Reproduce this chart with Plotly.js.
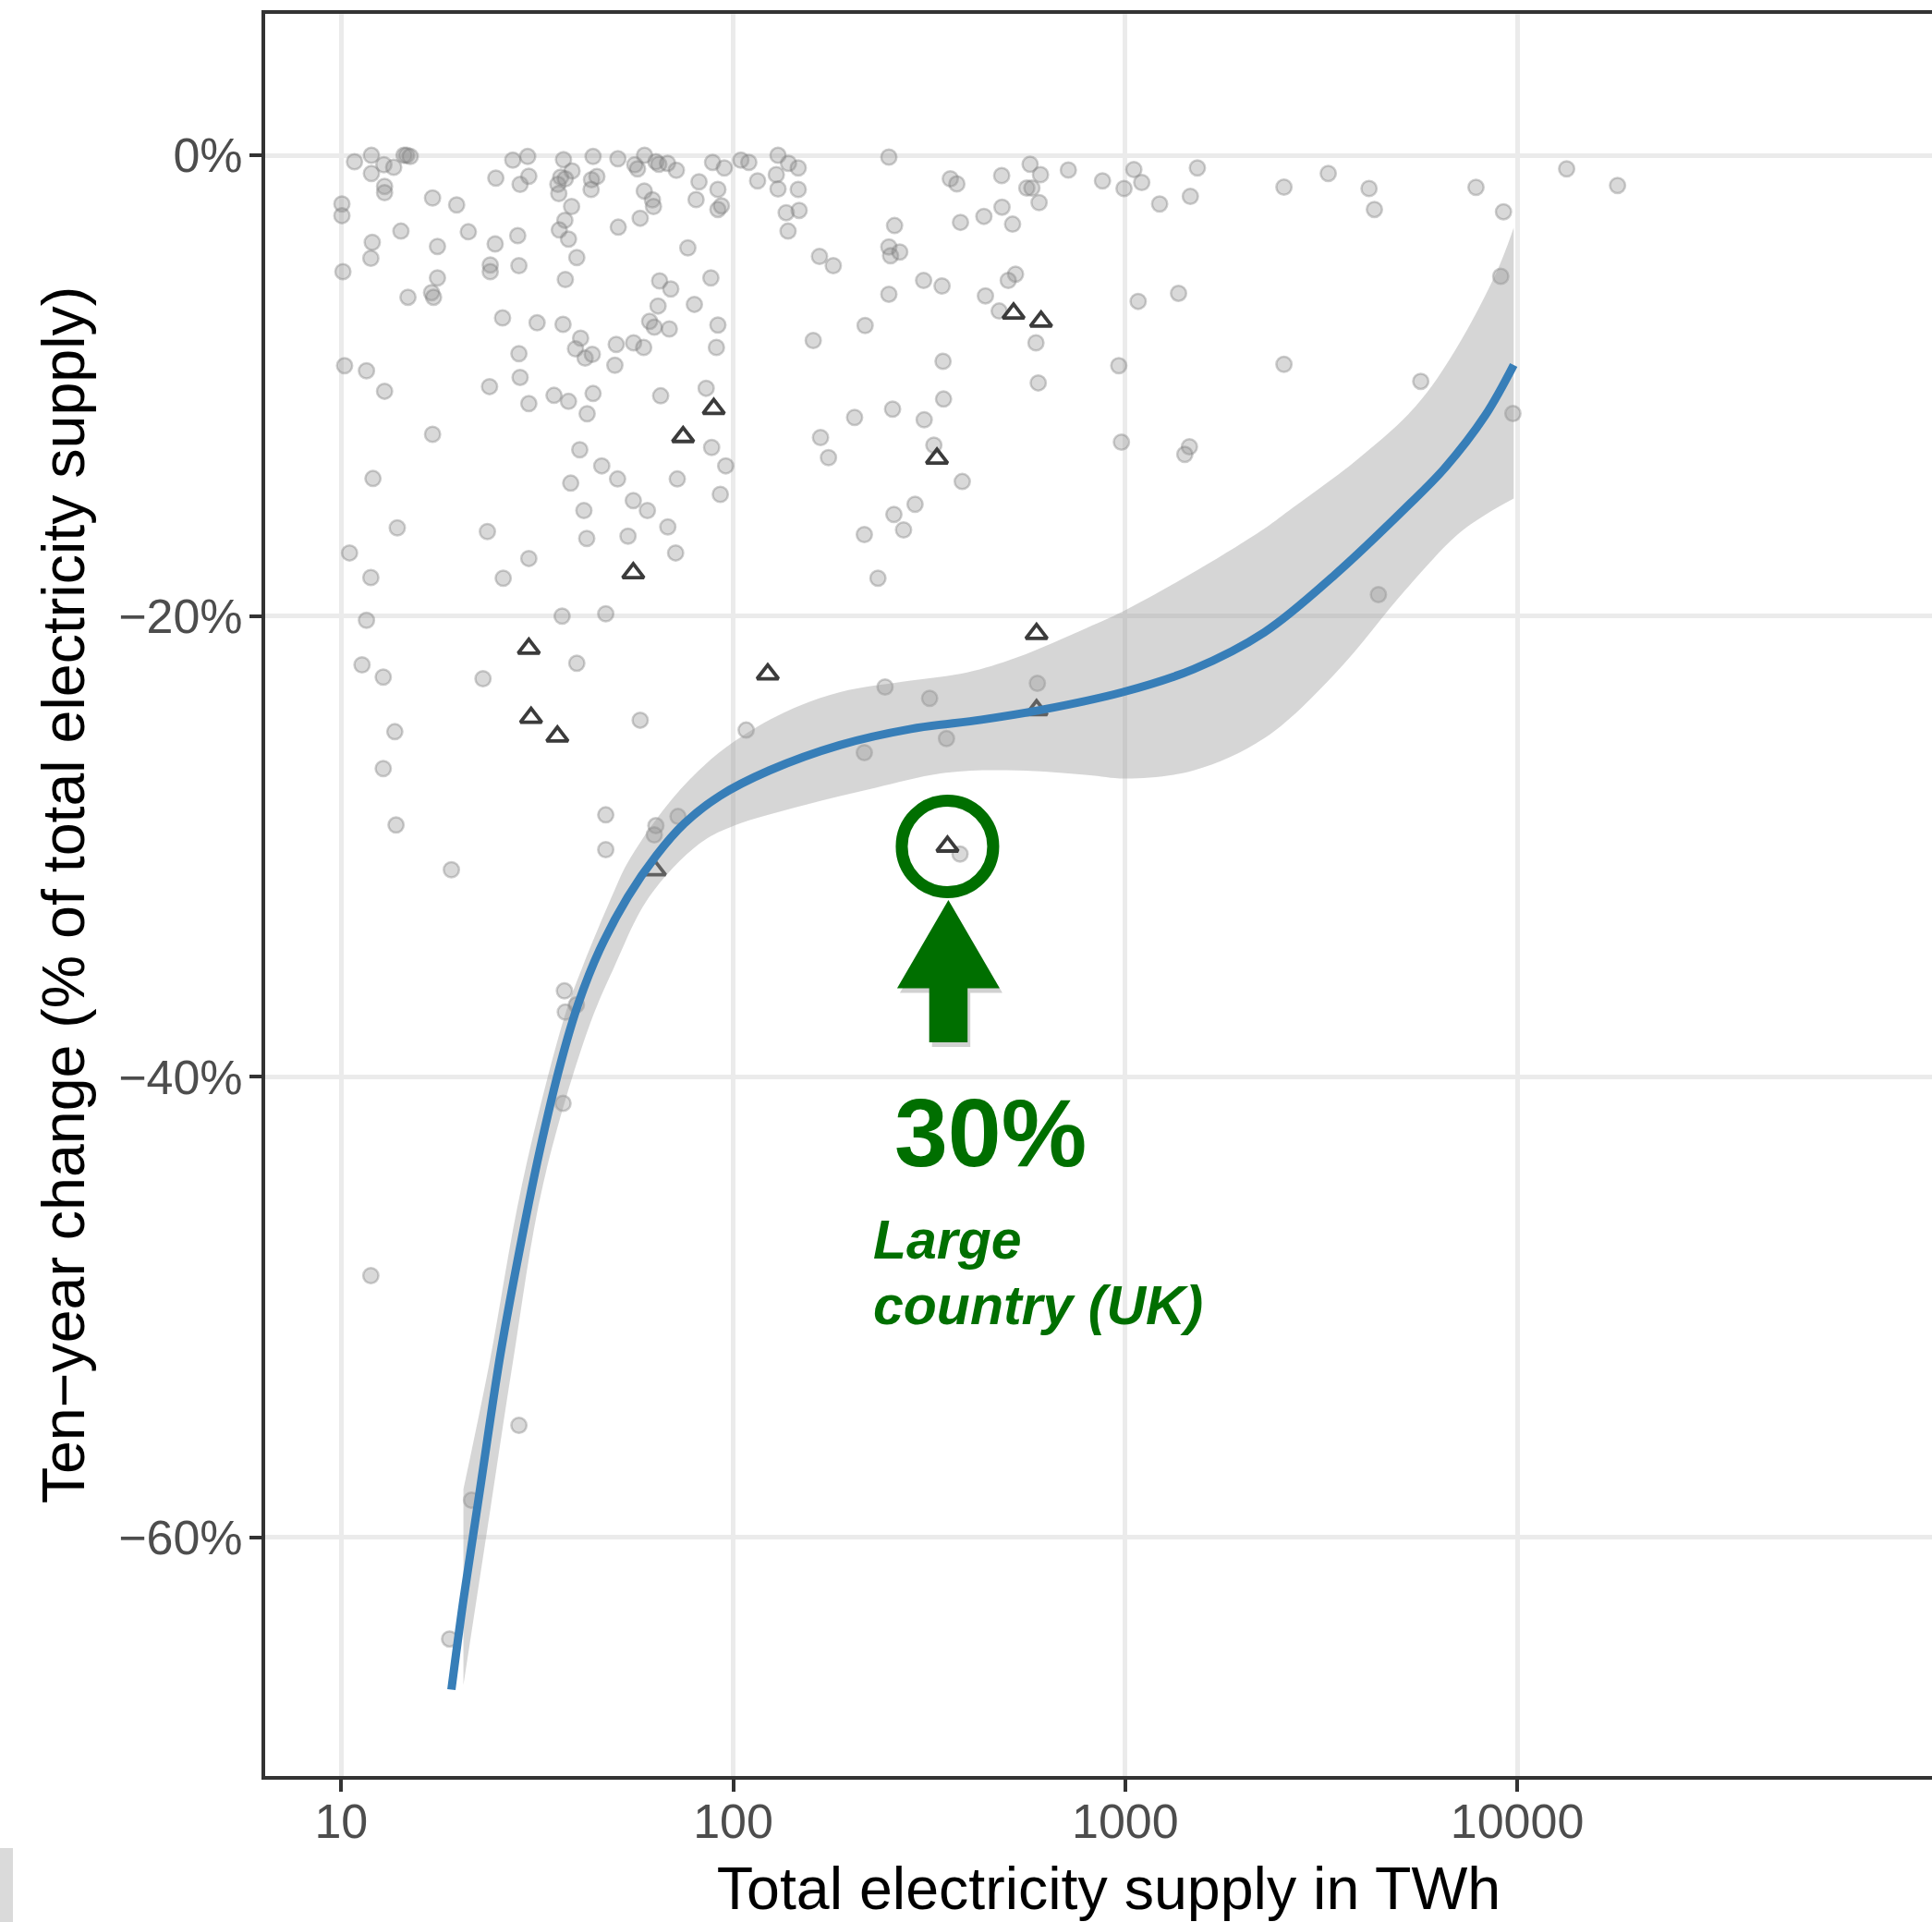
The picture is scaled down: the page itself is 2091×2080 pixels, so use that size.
<!DOCTYPE html>
<html><head><meta charset="utf-8">
<script src="https://cdn.plot.ly/plotly-3.0.1.min.js"></script>
<style>html,body{margin:0;padding:0;overflow:hidden;background:#fff;}#chart{width:2113px;height:2080px;}</style>
</head><body><div id="chart"></div>
<script>
// ---- data (TWh, % change) ----
const circleX = [10.81,11.94,11.94,12.85,13.61,14.46,14.69,15.0,27.4,29.9,24.8,28.6,30.1,36.9,38.8,36.3,35.7,37.3,35.9,43.9,43.5,44.9,43.4,50.8,56.1,57.0,59.4,63.5,64.6,68.0,71.6,81.8,88.6,94.9,91.4,80.4,91.4,93.3,104.6,109.6,115.4,130.1,138.4,146.5,128.8,130.1,146.5,136.5,147.3,138.0,
10.04,10.04,12.9,12.9,17.1,19.7,14.2,12.0,11.9,10.1,17.6,21.1,24.7,28.2,24.0,24.0,28.4,37.3,38.7,37.2,36.0,38.0,39.9,50.9,57.9,59.3,62.2,62.6,76.6,64.9,69.3,87.7,64.3,79.6,61.2,62.9,68.7,91.4,90.6,17.6,14.8,17.0,17.2,25.8,31.6,36.8,40.8,39.6,41.9,43.7,50.3,55.7,59.1,49.9,28.4,10.2,11.6,12.9,23.9,28.6,34.9,38.0,43.9,30.1,42.4,65.3,85.3,17.1,40.6,88.1,
249.5,358,372,484,572,608,716,875,1052,1102,993,1528,1224,1466,2541,3296,561,578,603,485,436,380,516,258,166,180,249.5,252,266,306,341,249.5,440,525,503,477,217,160,592,1079,1368,343,963,2541,600,344,255,204,307,167,175,325,978,1458,1419,
4188,4322,7850,9226,13370,18030,9078,5675,9750,
95.7,12.05,38.5,46.2,50.7,72.0,92.7,55.6,60.4,41.6,68.1,53.9,42.3,71.3,13.9,23.6,10.5,11.9,30.1,25.9,11.6,36.6,47.3,11.3,12.8,23.0,39.9,57.9,13.7,107.9,12.8,47.3,63.5,72.3,47.3,13.8,19.1,62.9,
384,291,257,272,216,234,244,317,597,216,350,379,
4426,
37.1,37.3,39.8,36.8,11.9,
28.4,21.5,18.9];
const circleY = [-0.28,0,-0.79,-0.41,-0.52,0,0,-0.05,-0.21,-0.05,-0.99,-1.26,-0.91,-0.19,-0.68,-0.95,-1.26,-1.02,-1.66,-0.05,-1.06,-0.92,-1.48,-0.15,-0.41,-0.59,0,-0.28,-0.39,-0.35,-0.65,-1.15,-0.31,-0.55,-1.48,-1.92,-2.35,-2.19,-0.21,-0.31,-1.11,0,-0.35,-0.55,-0.84,-1.46,-1.48,-2.49,-2.39,-3.29,
-2.11,-2.62,-1.35,-1.62,-1.85,-2.15,-3.29,-3.78,-4.47,-5.05,-3.96,-3.32,-3.85,-3.49,-4.76,-5.05,-4.79,-5.39,-2.22,-2.82,-3.24,-3.64,-4.44,-3.12,-2.73,-1.55,-1.93,-2.22,-4.02,-5.45,-5.80,-5.32,-6.54,-6.47,-7.21,-7.46,-7.54,-7.37,-8.34,-5.32,-6.16,-5.96,-6.16,-7.06,-7.27,-7.34,-7.94,-8.40,-8.80,-8.64,-8.21,-8.14,-8.34,-9.11,-8.61,-9.13,-9.35,-10.24,-10.04,-9.64,-10.42,-10.68,-10.34,-10.78,-11.22,-10.44,-10.11,-12.11,-12.78,-12.68,
-0.08,-1.02,-1.24,-0.88,-0.39,-0.84,-0.64,-1.11,-0.62,-1.18,-1.44,-0.55,-2.11,-1.78,-1.38,-0.79,-1.42,-1.42,-2.05,-2.25,-2.65,-2.91,-2.99,-3.05,-4.39,-4.79,-3.98,-4.36,-4.20,-5.43,-5.67,-6.03,-6.10,-5.16,-5.43,-6.76,-7.39,-8.04,-8.14,-6.34,-5.99,-8.94,-9.13,-9.07,-9.88,-10.58,-11.02,-11.38,-11.48,-12.25,-13.12,-12.58,-12.45,-12.65,-12.98,
-1.44,-2.35,-1.39,-2.45,-0.59,-1.31,-5.25,-9.81,-11.21,
-13.48,-14.03,-14.23,-13.48,-14.05,-14.05,-14.72,-14.99,-15.42,-15.42,-16.13,-16.53,-16.63,-17.26,-16.17,-16.33,-17.26,-18.33,-17.5,-18.36,-20.18,-20.00,-19.90,-22.12,-22.65,-22.72,-22.05,-24.52,-25.02,-24.95,-26.62,-28.63,-29.10,-28.70,-30.14,-29.07,-31.01,-29.5,
-14.16,-15.15,-15.59,-16.26,-16.46,-18.36,-23.08,-23.57,-22.92,-25.93,-25.32,-30.33,
-19.07,
-36.27,-37.19,-36.88,-41.15,-48.63,
-55.13,-58.38,-64.4];

// large-country markers (last one is the UK)
const triangleX = [89.2,74.5,519,610,331,55.6,30.1,30.5,35.6,122.5,63.1,594,594,352];
const triangleY = [-11.0,-12.22,-6.86,-7.21,-13.16,-18.13,-21.41,-24.41,-25.22,-22.52,-31.03,-20.77,-24.08,-30.0];

// smooth fit and its confidence band
const fitX = [19.1,20.5,22.6,25.5,28.9,32.1,36.3,40.3,45.6,53.8,63.6,75.1,92.5,123.7,187,284,430,599,986,1495,2266,3430,5196,6516,8280,9795];
const fitY = [-66.6,-62.7,-57.9,-52.0,-47.0,-43.2,-39.4,-36.8,-34.5,-32.2,-30.4,-29.0,-27.8,-26.7,-25.6,-24.9,-24.5,-24.1,-23.3,-22.3,-20.7,-18.2,-15.3,-13.6,-11.3,-9.1];
const bandUpperX = [20.5,23.9,28.9,37.1,41.1,49.5,53.8,66.4,81.7,100.5,134.3,187.4,284,395,529,801,986,1495,2266,2675,3846,5504,7000,8892,9795];
const bandUpperY = [-57.9,-52.4,-44.7,-37.4,-35.3,-32.0,-30.7,-28.4,-26.7,-25.45,-24.2,-23.3,-22.8,-22.45,-21.8,-20.5,-19.8,-18.1,-16.2,-15.3,-13.3,-10.9,-8.37,-5.0,-3.15];
const bandLowerX = [20.5,24.0,27.4,32.7,42.5,49.5,61.0,81.7,100.5,152,231,349,529,801,1007,1495,2266,3430,5196,7000,8300,9795];
const bandLowerY = [-66.4,-58.8,-52.4,-44.7,-38.0,-35.3,-32.2,-29.9,-29.1,-28.2,-27.45,-26.8,-26.7,-26.9,-27.05,-26.7,-25.3,-22.5,-18.85,-16.5,-15.6,-14.9];

const xTickVals = [10,100,1000,10000];
const xTickText = ['10','100','1000','10000'];
const yTickVals = [0,-20,-40,-60];
const yTickText = ['0%','\u221220%','\u221240%','\u221260%'];

// ---- layout constants ----
const W = 2113, H = 2080;
const M = {l:287, r:0, t:15, b:158, pad:0};
const plotW = W - M.l - M.r, plotH = H - M.t - M.b;
const xRange = [0.806, 5.110], yRange = [-70.35, 6.14];
const GREEN = '#006f00';
const FONT = 'Liberation Sans, Arial, Helvetica, sans-serif';

const uk = triangleX.length - 1;
const ukPX = (Math.log10(triangleX[uk]) - xRange[0]) / (xRange[1] - xRange[0]);
const ukPY = (triangleY[uk] - yRange[0]) / (yRange[1] - yRange[0]);
const dx = p => p / plotW, dy = p => p / plotH;

function arrowPath(ox, oy) {
  const cx = ukPX + dx(1 + ox);
  const apex = ukPY - dy(58 + oy), base = ukPY - dy(153.5 + oy), bot = ukPY - dy(212 + oy);
  const hw = dx(55.5), sw = dx(20.75);
  return `M${cx},${apex} L${cx+hw},${base} L${cx+sw},${base} L${cx+sw},${bot} L${cx-sw},${bot} L${cx-sw},${base} L${cx-hw},${base} Z`;
}
const pxX = px => (px - M.l) / plotW;
const pxY = py => (M.t + plotH - py) / plotH;

const traces = [
  {type:'scatter', mode:'markers', x:circleX, y:circleY, hoverinfo:'skip',
   marker:{symbol:'circle', size:16.5, color:'rgba(140,140,140,0.33)', line:{width:2.5, color:'rgba(120,120,120,0.36)'}}},
  {type:'scatter', mode:'markers', x:triangleX, y:triangleY, hoverinfo:'skip',
   marker:{symbol:'triangle-up-open', size:20, color:'#3b3b3b', line:{width:3.8, color:'#3b3b3b'}}},
  {type:'scatter', mode:'lines', x:bandLowerX, y:bandLowerY, hoverinfo:'skip',
   line:{width:0, shape:'spline', color:'rgba(0,0,0,0)'}},
  {type:'scatter', mode:'lines', x:bandUpperX, y:bandUpperY, hoverinfo:'skip', fill:'tonexty',
   fillcolor:'rgba(153,153,153,0.4)', line:{width:0, shape:'spline', color:'rgba(0,0,0,0)'}},
  {type:'scatter', mode:'lines', x:fitX, y:fitY, hoverinfo:'skip',
   line:{width:9, color:'#377EB8', shape:'spline'}},
  {type:'scatter', mode:'markers', x:[triangleX[uk]], y:[triangleY[uk]], hoverinfo:'skip',
   marker:{symbol:'circle-open', size:99, color:GREEN, line:{width:13, color:GREEN}}}
];

const layout = {
  width:W, height:H, margin:M, showlegend:false,
  paper_bgcolor:'#ffffff', plot_bgcolor:'#ffffff',
  font:{family:FONT},
  xaxis:{type:'log', range:xRange, tickmode:'array', tickvals:xTickVals, ticktext:xTickText,
    ticks:'outside', ticklen:13, tickwidth:4, tickcolor:'#333333', ticklabelstandoff:-12,
    tickfont:{size:52, color:'#4d4d4d', family:FONT},
    showgrid:true, gridcolor:'#ebebeb', gridwidth:5, zeroline:false,
    showline:true, linecolor:'#333333', linewidth:4, mirror:true, automargin:false,
    title:{text:'Total electricity supply in TWh', font:{size:64.5, color:'#000000', family:FONT}, standoff:24}},
  yaxis:{range:yRange, tickmode:'array', tickvals:yTickVals, ticktext:yTickText,
    ticks:'outside', ticklen:13, tickwidth:4, tickcolor:'#333333', ticklabelstandoff:-3,
    tickfont:{size:52, color:'#4d4d4d', family:FONT},
    showgrid:true, gridcolor:'#ebebeb', gridwidth:5, zeroline:false,
    showline:true, linecolor:'#333333', linewidth:4, mirror:false, automargin:false,
    title:{text:'Ten\u2212year change (% of total electricity supply)', font:{size:64.5, color:'#000000', family:FONT}, standoff:17}},
  shapes:[
    {type:'path', xref:'paper', yref:'paper', path:arrowPath(3,5), fillcolor:'rgba(0,0,0,0.18)', line:{width:0}, layer:'above'},
    {type:'path', xref:'paper', yref:'paper', path:arrowPath(0,0), fillcolor:GREEN, line:{width:0}, layer:'above'},
    {type:'rect', xref:'paper', yref:'paper', x0:pxX(0), x1:pxX(14), y0:pxY(2000), y1:pxY(2080), fillcolor:'#dadada', line:{width:0}, layer:'above'}
  ],
  annotations:[
    {xref:'paper', yref:'paper', x:pxX(966), y:pxY(1226), xanchor:'left', yanchor:'middle', showarrow:false,
     text:'30%', font:{size:104, color:GREEN, family:FONT, weight:'bold'}},
    {xref:'paper', yref:'paper', x:pxX(943), y:pxY(1342), xanchor:'left', yanchor:'middle', showarrow:false,
     text:'Large', font:{size:59, color:GREEN, family:FONT, weight:'bold', style:'italic'}},
    {xref:'paper', yref:'paper', x:pxX(943), y:pxY(1413), xanchor:'left', yanchor:'middle', showarrow:false,
     text:'country (UK)', font:{size:59, color:GREEN, family:FONT, weight:'bold', style:'italic'}}
  ]
};

Plotly.newPlot('chart', traces, layout, {staticPlot:true, displayModeBar:false});
</script></body></html>
